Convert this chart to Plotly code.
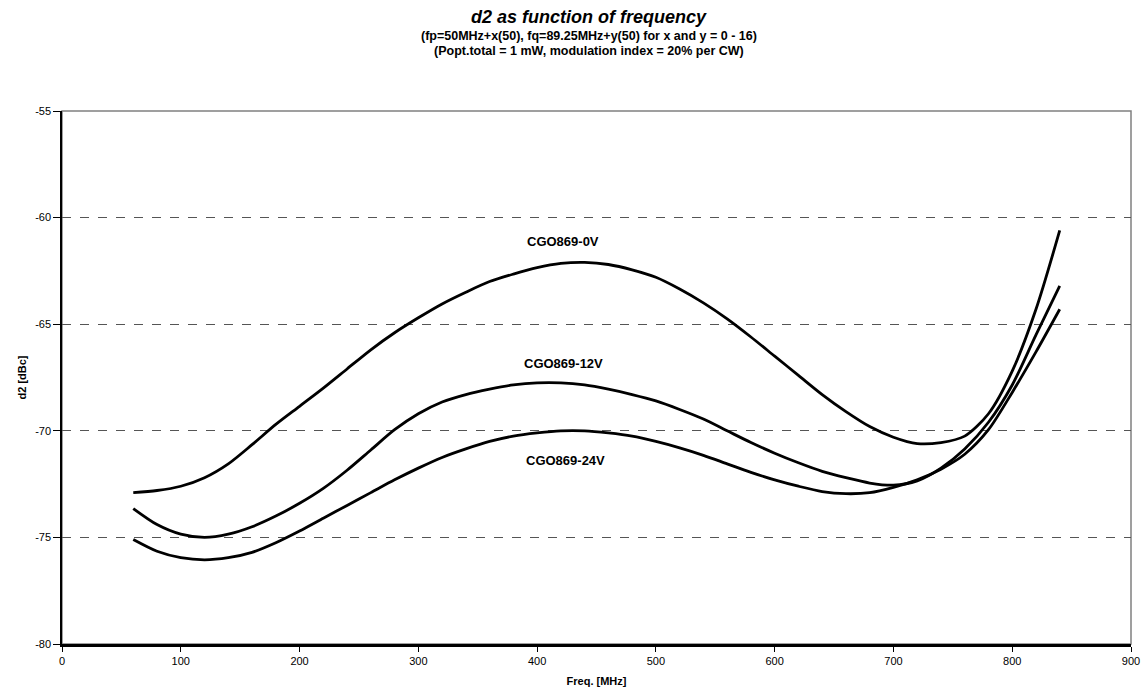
import plotly.graph_objects as go

freq = [60, 80, 100, 120, 140, 160, 180, 200, 220, 240, 260, 280, 300, 320, 340, 360, 380, 400,
        420, 440, 460, 480, 500, 520, 540, 560, 580, 600, 620, 640, 660, 680, 700, 720, 740, 760,
        780, 800, 820, 840]

d2_0v = [-72.9, -72.8, -72.6, -72.2, -71.55, -70.65, -69.7, -68.85, -68.0, -67.1, -66.2, -65.4,
         -64.7, -64.05, -63.5, -63.0, -62.65, -62.35, -62.15, -62.1, -62.2, -62.45, -62.8, -63.35,
         -64.0, -64.75, -65.6, -66.5, -67.4, -68.3, -69.1, -69.8, -70.3, -70.6, -70.55, -70.25,
         -69.2, -67.2, -64.3, -60.6]
d2_12v = [-73.65, -74.4, -74.85, -75.0, -74.85, -74.5, -74.0, -73.4, -72.7, -71.85, -70.9, -69.95,
          -69.2, -68.65, -68.3, -68.05, -67.85, -67.75, -67.75, -67.85, -68.05, -68.3, -68.6, -69.0,
          -69.45, -70.0, -70.55, -71.05, -71.5, -71.9, -72.2, -72.45, -72.55, -72.35, -71.75, -70.85,
          -69.6, -67.85, -65.5, -63.2]
d2_24v = [-75.1, -75.65, -75.95, -76.05, -75.95, -75.7, -75.25, -74.7, -74.1, -73.5, -72.9, -72.3,
          -71.75, -71.25, -70.85, -70.5, -70.25, -70.1, -70.0, -70.0, -70.1, -70.25, -70.5, -70.8,
          -71.15, -71.55, -71.95, -72.3, -72.6, -72.85, -72.95, -72.9, -72.65, -72.3, -71.8, -71.1,
          -69.95, -68.2, -66.3, -64.3]

series = [("CGO869-0V", d2_0v), ("CGO869-12V", d2_12v), ("CGO869-24V", d2_24v)]

label_x = [422, 422, 424]
label_y = [-61.1, -66.85, -71.4]

x_ticks = [0, 100, 200, 300, 400, 500, 600, 700, 800, 900]
y_ticks = [-80, -75, -70, -65, -60, -55]
y_tick_labels = ["-80", "-75", "-70", "-65", "-60", "-55"]

title_text = "d2 as function of frequency"
subtitle_1 = "(fp=50MHz+x(50), fq=89.25MHz+y(50) for x and y = 0 - 16)"
subtitle_2 = "(Popt.total = 1 mW, modulation index = 20% per CW)"

FONT = "Arial, Liberation Sans, sans-serif"

fig = go.Figure()
for name, vals in series:
    fig.add_trace(go.Scatter(x=freq, y=vals, mode="lines", name=name,
                             line=dict(color="black", width=2.8, shape="spline", smoothing=0.8),
                             showlegend=False))

for (name, _), lx, ly in zip(series, label_x, label_y):
    fig.add_annotation(x=lx, y=ly, text="<b>" + name + "</b>", showarrow=False,
                       font=dict(family=FONT, size=13, color="black"))

# title block
fig.add_annotation(xref="paper", yref="paper", x=0.493, y=1.176, yanchor="middle",
                   text="<b><i>" + title_text + "</i></b>", showarrow=False,
                   font=dict(family=FONT, size=18, color="black"))
fig.add_annotation(xref="paper", yref="paper", x=0.493, y=1.140, yanchor="middle",
                   text="<b>" + subtitle_1 + "</b>", showarrow=False,
                   font=dict(family=FONT, size=12.5, color="black"))
fig.add_annotation(xref="paper", yref="paper", x=0.493, y=1.113, yanchor="middle",
                   text="<b>" + subtitle_2 + "</b>", showarrow=False,
                   font=dict(family=FONT, size=12.5, color="black"))

fig.add_shape(type="rect", xref="paper", yref="paper", x0=0, y0=0, x1=1, y1=1,
              line=dict(color="#808080", width=1.5), layer="below")

fig.update_layout(
    width=1144, height=694,
    margin=dict(l=62, r=13, t=111, b=50),
    paper_bgcolor="white", plot_bgcolor="white",
    font=dict(family=FONT, size=11, color="black"),
    xaxis=dict(range=[0, 900], tickvals=x_ticks, ticks="outside", ticklen=5, tickcolor="black",
               showline=True, linecolor="black", linewidth=2.5, showgrid=False, zeroline=False,
               automargin=False,
               title=dict(text="<b>Freq. [MHz]</b>", font=dict(size=11), standoff=12),
               tickfont=dict(size=11, color="black")),
    yaxis=dict(range=[-80, -55], tickvals=y_ticks, ticktext=y_tick_labels, ticks="outside",
               ticklen=7, tickcolor="black",
               showline=True, linecolor="black", linewidth=1.5, automargin=False,
               showgrid=True, gridcolor="#555555", griddash="dash", gridwidth=1, zeroline=False,
               title=dict(text="<b>d2 [dBc]</b>", font=dict(size=11), standoff=6),
               tickfont=dict(size=11, color="black")),
)

fig.write_html("out.html")
